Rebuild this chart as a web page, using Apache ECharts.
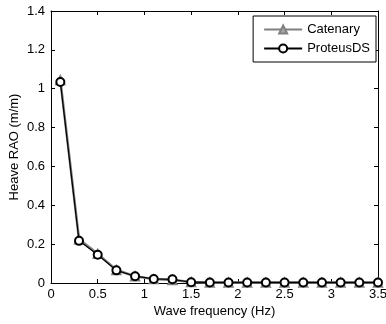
<!DOCTYPE html>
<html>
<head>
<meta charset="utf-8">
<script src="https://cdn.jsdelivr.net/npm/echarts@6/dist/echarts.min.js"></script>
<style>
  html, body { margin: 0; padding: 0; background: #fff; }
  #chart { width: 386px; height: 324px; }
</style>
</head>
<body>
<div id="chart"></div>
<script>
const freq = [0.1, 0.3, 0.5, 0.7, 0.9, 1.1, 1.3, 1.5, 1.7, 1.9, 2.1, 2.3, 2.5, 2.7, 2.9, 3.1, 3.3, 3.5]
const catenary = [1.045, 0.225, 0.15, 0.067, 0.035, 0.02, 0.016, 0.005, 0.003, 0.003, 0.003, 0.003, 0.003, 0.003, 0.003, 0.003, 0.003, 0.003]
const proteus = [1.035, 0.217, 0.145, 0.065, 0.035, 0.021, 0.019, 0.004, 0.003, 0.003, 0.003, 0.003, 0.003, 0.003, 0.003, 0.003, 0.003, 0.003]

const font = 'Liberation Sans, Arial, sans-serif'
const pairs = (ys) => freq.map((x, i) => [x, ys[i]])

const chart = echarts.init(document.getElementById('chart'))

// ticks only, for the top and right edges of the box
const tickOnly = {
  axisLine: { show: true, onZero: false, lineStyle: { color: '#000', width: 1 } },
  axisTick: { show: true, inside: true, length: 4, lineStyle: { color: '#000' } },
  axisLabel: { show: false },
  splitLine: { show: false }
}

const options = {
  animation: false,
  textStyle: { fontFamily: font },
  grid: { left: 51, top: 11, right: 8, bottom: 41, containLabel: false, outerBoundsMode: 'none' },
  legend: {
    orient: 'vertical',
    right: 10,
    top: 16,
    padding: [7, 6, 7, 10],
    itemGap: 6,
    itemWidth: 38,
    itemHeight: 10,
    borderColor: '#000',
    borderWidth: 1,
    borderRadius: 0,
    backgroundColor: '#fff',
    textStyle: { fontFamily: font, fontSize: 13, color: '#000' },
    data: ['Catenary', 'ProteusDS']
  },
  xAxis: [{
    type: 'value',
    min: 0,
    max: 3.5,
    interval: 0.5,
    name: 'Wave frequency (Hz)',
    nameLocation: 'middle',
    nameMoveOverlap: false,
    nameGap: 22,
    nameTextStyle: { fontFamily: font, fontSize: 13, color: '#000' },
    axisLine: { show: true, onZero: false, lineStyle: { color: '#000' } },
    axisTick: { show: true, inside: true, length: 4, lineStyle: { color: '#000' } },
    axisLabel: { color: '#000', fontSize: 13, fontFamily: font, margin: 5, formatter: (v) => String(v) },
    splitLine: { show: false }
  }, Object.assign({ type: 'value', min: 0, max: 3.5, interval: 0.5, position: 'top' }, tickOnly)],
  yAxis: [{
    type: 'value',
    min: 0,
    max: 1.4,
    interval: 0.2,
    name: 'Heave RAO (m/m)',
    nameLocation: 'middle',
    nameMoveOverlap: false,
    nameGap: 30,
    nameTextStyle: { fontFamily: font, fontSize: 13, color: '#000' },
    axisLine: { show: true, onZero: false, lineStyle: { color: '#000' } },
    axisTick: { show: true, inside: true, length: 4, lineStyle: { color: '#000' } },
    axisLabel: { color: '#000', fontSize: 13, fontFamily: font, margin: 6, formatter: (v) => String(+v.toFixed(1)) },
    splitLine: { show: false }
  }, Object.assign({ type: 'value', min: 0, max: 1.4, interval: 0.2, position: 'right' }, tickOnly)],
  series: [{
    name: 'Catenary',
    type: 'line',
    clip: false,
    data: pairs(catenary),
    symbol: 'triangle',
    symbolSize: 9,
    lineStyle: { color: '#808080', width: 2.5 },
    itemStyle: { color: '#a6a6a6', borderColor: '#808080', borderWidth: 1.5 },
    z: 2
  }, {
    name: 'ProteusDS',
    type: 'line',
    clip: false,
    data: pairs(proteus),
    symbol: 'emptyCircle',
    symbolSize: 8,
    lineStyle: { color: '#000', width: 1.2 },
    itemStyle: { color: '#000', borderColor: '#000', borderWidth: 1.2 },
    z: 3
  }]
}

chart.setOption(options, true)
</script>
</body>
</html>
